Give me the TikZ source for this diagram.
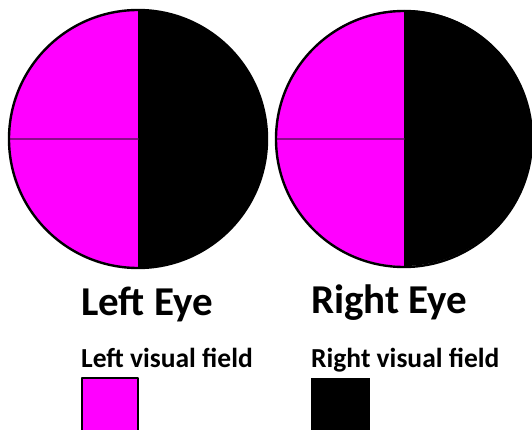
\documentclass[tikz,border=0pt]{standalone}
\usepackage{fontspec}
\setmainfont{Carlito}
\definecolor{fieldpink}{HTML}{FF00FF}
\definecolor{midline}{HTML}{8A0A8A}
\tikzset{
  eyelabel/.style={anchor=base west,inner sep=0pt,font=\bfseries\fontsize{41}{41}\selectfont},
  fieldlabel/.style={anchor=base west,inner sep=0pt,font=\bfseries\fontsize{27.5}{27.5}\selectfont}
}

\begin{document}
\begin{tikzpicture}[x=1pt,y=1pt,line cap=round,line join=round]
  \useasboundingbox (0,0) rectangle (532,429);
  % left eye
  \fill[fieldpink] (138,419) arc (90:270:129) -- cycle;
  \fill[black] (138,419) arc (90:-90:129) -- cycle;
  \draw[midline,line width=1.2pt] (9,290) -- (138,290);
  \draw[line width=2.4pt] (138,290) circle (129);
  % right eye
  \fill[fieldpink] (404,419) arc (90:270:128) -- cycle;
  \fill[black] (404,419) arc (90:-90:128) -- cycle;
  \draw[midline,line width=1.2pt] (276,290) -- (404,290);
  \draw[line width=2.4pt] (404,290) circle (128);
  % labels
  \node[eyelabel] (lefteye) at (81,114) {Left Eye};
  \node[eyelabel] (righteye) at (311,116) {Right Eye};
  \node[fieldlabel] (leftfield) at (81,62) {Left visual field};
  \node[fieldlabel] (rightfield) at (311,62) {Right visual field};
  % field swatches
  \draw[fill=fieldpink,line width=1.5pt] (82,-4) rectangle (138,51);
  \fill[black] (311,-4) rectangle (370,51);
\end{tikzpicture}
\end{document}
